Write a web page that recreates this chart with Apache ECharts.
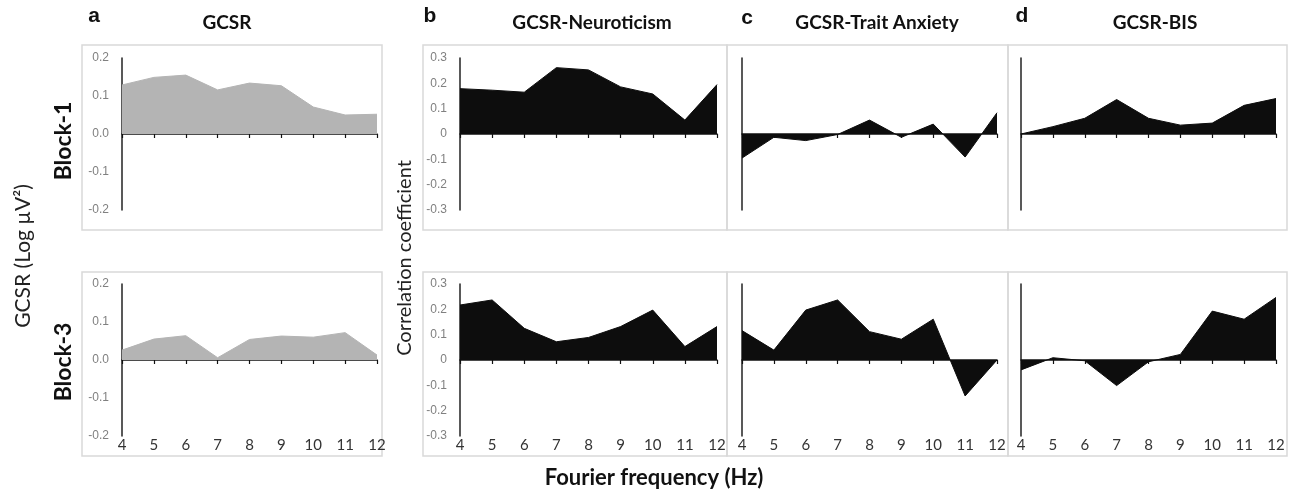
<!DOCTYPE html>
<html>
<head>
<meta charset="utf-8">
<script src="https://cdn.jsdelivr.net/npm/echarts@6/dist/echarts.min.js"></script>
<style>
  html, body { margin: 0; padding: 0; background: #fff; }
  #chart { width: 1291px; height: 491px; }
</style>
</head>
<body>
<div id="chart"></div>
<script>
// Fourier frequency (Hz)
const freqs = ['4', '5', '6', '7', '8', '9', '10', '11', '12'];

// GCSR power (Log µV²)
const gcsrBlock1 = [0.129, 0.149, 0.155, 0.116, 0.134, 0.127, 0.071, 0.050, 0.052];
const gcsrBlock3 = [0.026, 0.055, 0.064, 0.006, 0.054, 0.063, 0.060, 0.072, 0.013];

// correlation coefficients
const neuroBlock1 = [0.179, 0.173, 0.165, 0.262, 0.253, 0.186, 0.158, 0.055, 0.195];
const neuroBlock3 = [0.217, 0.237, 0.125, 0.072, 0.089, 0.132, 0.197, 0.053, 0.132];
const anxietyBlock1 = [-0.095, -0.013, -0.026, -0.002, 0.055, -0.013, 0.039, -0.091, 0.084];
const anxietyBlock3 = [0.116, 0.039, 0.197, 0.237, 0.112, 0.082, 0.161, -0.142, 0.0];
const bisBlock1 = [0.0, 0.029, 0.062, 0.136, 0.062, 0.035, 0.043, 0.113, 0.140];
const bisBlock3 = [-0.039, 0.009, -0.003, -0.101, -0.007, 0.022, 0.193, 0.161, 0.247];

// tick labels
const gcsrTicks = [-0.2, -0.1, 0.0, 0.1, 0.2];
const corrTicks = [-0.3, -0.2, -0.1, 0, 0.1, 0.2, 0.3];

const FONT = 'Lato, "Open Sans", sans-serif';

const chart = echarts.init(document.getElementById('chart'));

// panel layout: [left, width]
const cols = [[122, 255], [460, 257], [742, 255], [1021, 255]];
const rows = [[58, 152], [284, 152]];

const panels = [
    { col: 0, row: 0, data: gcsrBlock1, ticks: gcsrTicks, fill: '#b4b4b4', labels: 'gcsr' },
    { col: 0, row: 1, data: gcsrBlock3, ticks: gcsrTicks, fill: '#b4b4b4', labels: 'gcsr' },
    { col: 1, row: 0, data: neuroBlock1, ticks: corrTicks, fill: '#0d0d0d', labels: 'corr' },
    { col: 1, row: 1, data: neuroBlock3, ticks: corrTicks, fill: '#0d0d0d', labels: 'corr' },
    { col: 2, row: 0, data: anxietyBlock1, ticks: corrTicks, fill: '#0d0d0d', labels: null },
    { col: 2, row: 1, data: anxietyBlock3, ticks: corrTicks, fill: '#0d0d0d', labels: null },
    { col: 3, row: 0, data: bisBlock1, ticks: corrTicks, fill: '#0d0d0d', labels: null },
    { col: 3, row: 1, data: bisBlock3, ticks: corrTicks, fill: '#0d0d0d', labels: null }
];

const grid = [], xAxis = [], yAxis = [], series = [];

panels.forEach((p, i) => {
    grid.push({
        left: cols[p.col][0],
        width: cols[p.col][1],
        top: rows[p.row][0],
        height: rows[p.row][1]
    });
    // axis line at zero with ticks
    xAxis.push({
        type: 'category',
        gridIndex: i,
        data: freqs,
        boundaryGap: false,
        axisLine: { onZero: true, lineStyle: { color: '#111', width: 1.5 } },
        axisTick: { show: true, length: 4, lineStyle: { color: '#111', width: 1.2 } },
        axisLabel: { show: false },
        splitLine: { show: false }
    });
    // labels at the bottom of the panel (bottom row only)
    xAxis.push({
        type: 'category',
        gridIndex: i,
        data: freqs,
        boundaryGap: false,
        position: 'bottom',
        axisLine: { show: false, onZero: false },
        axisTick: { show: false },
        axisLabel: {
            show: p.row === 1,
            color: '#333',
            fontSize: 15,
            fontFamily: FONT,
            margin: 2
        },
        splitLine: { show: false }
    });
    const lo = p.ticks[0], hi = p.ticks[p.ticks.length - 1];
    yAxis.push({
        type: 'value',
        gridIndex: i,
        min: lo,
        max: hi,
        interval: 0.1,
        axisLine: { show: true, onZero: false, lineStyle: { color: '#222', width: 1.5 } },
        axisTick: { show: false },
        splitLine: { show: false },
        axisLabel: {
            show: p.labels !== null,
            color: '#808080',
            fontSize: 12,
            fontFamily: '"Liberation Sans", Arial, sans-serif',
            margin: 13,
            formatter: v => {
                const r = Math.round(v * 10) / 10;
                if (p.labels === 'gcsr') return r.toFixed(1);
                return r === 0 ? '0' : r.toFixed(1);
            }
        }
    });
    series.push({
        type: 'line',
        xAxisIndex: i * 2,
        yAxisIndex: i,
        data: p.data,
        symbol: 'none',
        silent: true,
        lineStyle: { color: p.fill, width: 1 },
        areaStyle: { color: p.fill, opacity: 1 },
        z: 1
    });
});

// frames around each panel
const frames = [
    [82, 45, 300, 185], [82, 272, 300, 184],
    [423, 45, 304, 185], [423, 272, 304, 184],
    [727, 45, 281, 185], [727, 272, 281, 184],
    [1008, 45, 279, 185], [1008, 272, 279, 184]
];

const graphic = frames.map(f => ({
    type: 'rect',
    shape: { x: f[0], y: f[1], width: f[2], height: f[3] },
    style: { fill: 'none', stroke: '#d9d9d9', lineWidth: 1.5 },
    z: -1,
    silent: true
}));

function txt(text, x, y, font, rot, fill) {
    return {
        type: 'text',
        x: x, y: y,
        rotation: rot || 0,
        style: {
            text: text,
            font: font,
            fill: fill || '#111',
            align: 'center',
            verticalAlign: 'middle'
        },
        silent: true
    };
}

const letterFont = 'bold 21px "Liberation Sans", Arial, sans-serif';
const titleFont = 'bold 19px ' + FONT;

graphic.push(
    txt('a', 94, 16, letterFont),
    txt('GCSR', 227, 23, titleFont),
    txt('b', 430, 16, letterFont),
    txt('GCSR-Neuroticism', 592, 23, titleFont),
    txt('c', 747, 18, letterFont),
    txt('GCSR-Trait Anxiety', 877, 23, titleFont),
    txt('d', 1022, 16, letterFont),
    txt('GCSR-BIS', 1155, 23, titleFont),
    txt('Block-1', 64, 141, 'bold 23px ' + FONT, Math.PI / 2),
    txt('Block-3', 64, 362, 'bold 23px ' + FONT, Math.PI / 2),
    txt('GCSR (Log \u00b5V\u00b2)', 23, 256, '21px ' + FONT, Math.PI / 2, '#222'),
    txt('Correlation coefficient', 405, 258, '20px ' + FONT, Math.PI / 2, '#222'),
    txt('Fourier frequency (Hz)', 654, 478, 'bold 22px ' + FONT)
);

chart.setOption({
    animation: false,
    backgroundColor: '#fff',
    grid: grid,
    xAxis: xAxis,
    yAxis: yAxis,
    series: series,
    graphic: graphic
});
</script>
</body>
</html>
